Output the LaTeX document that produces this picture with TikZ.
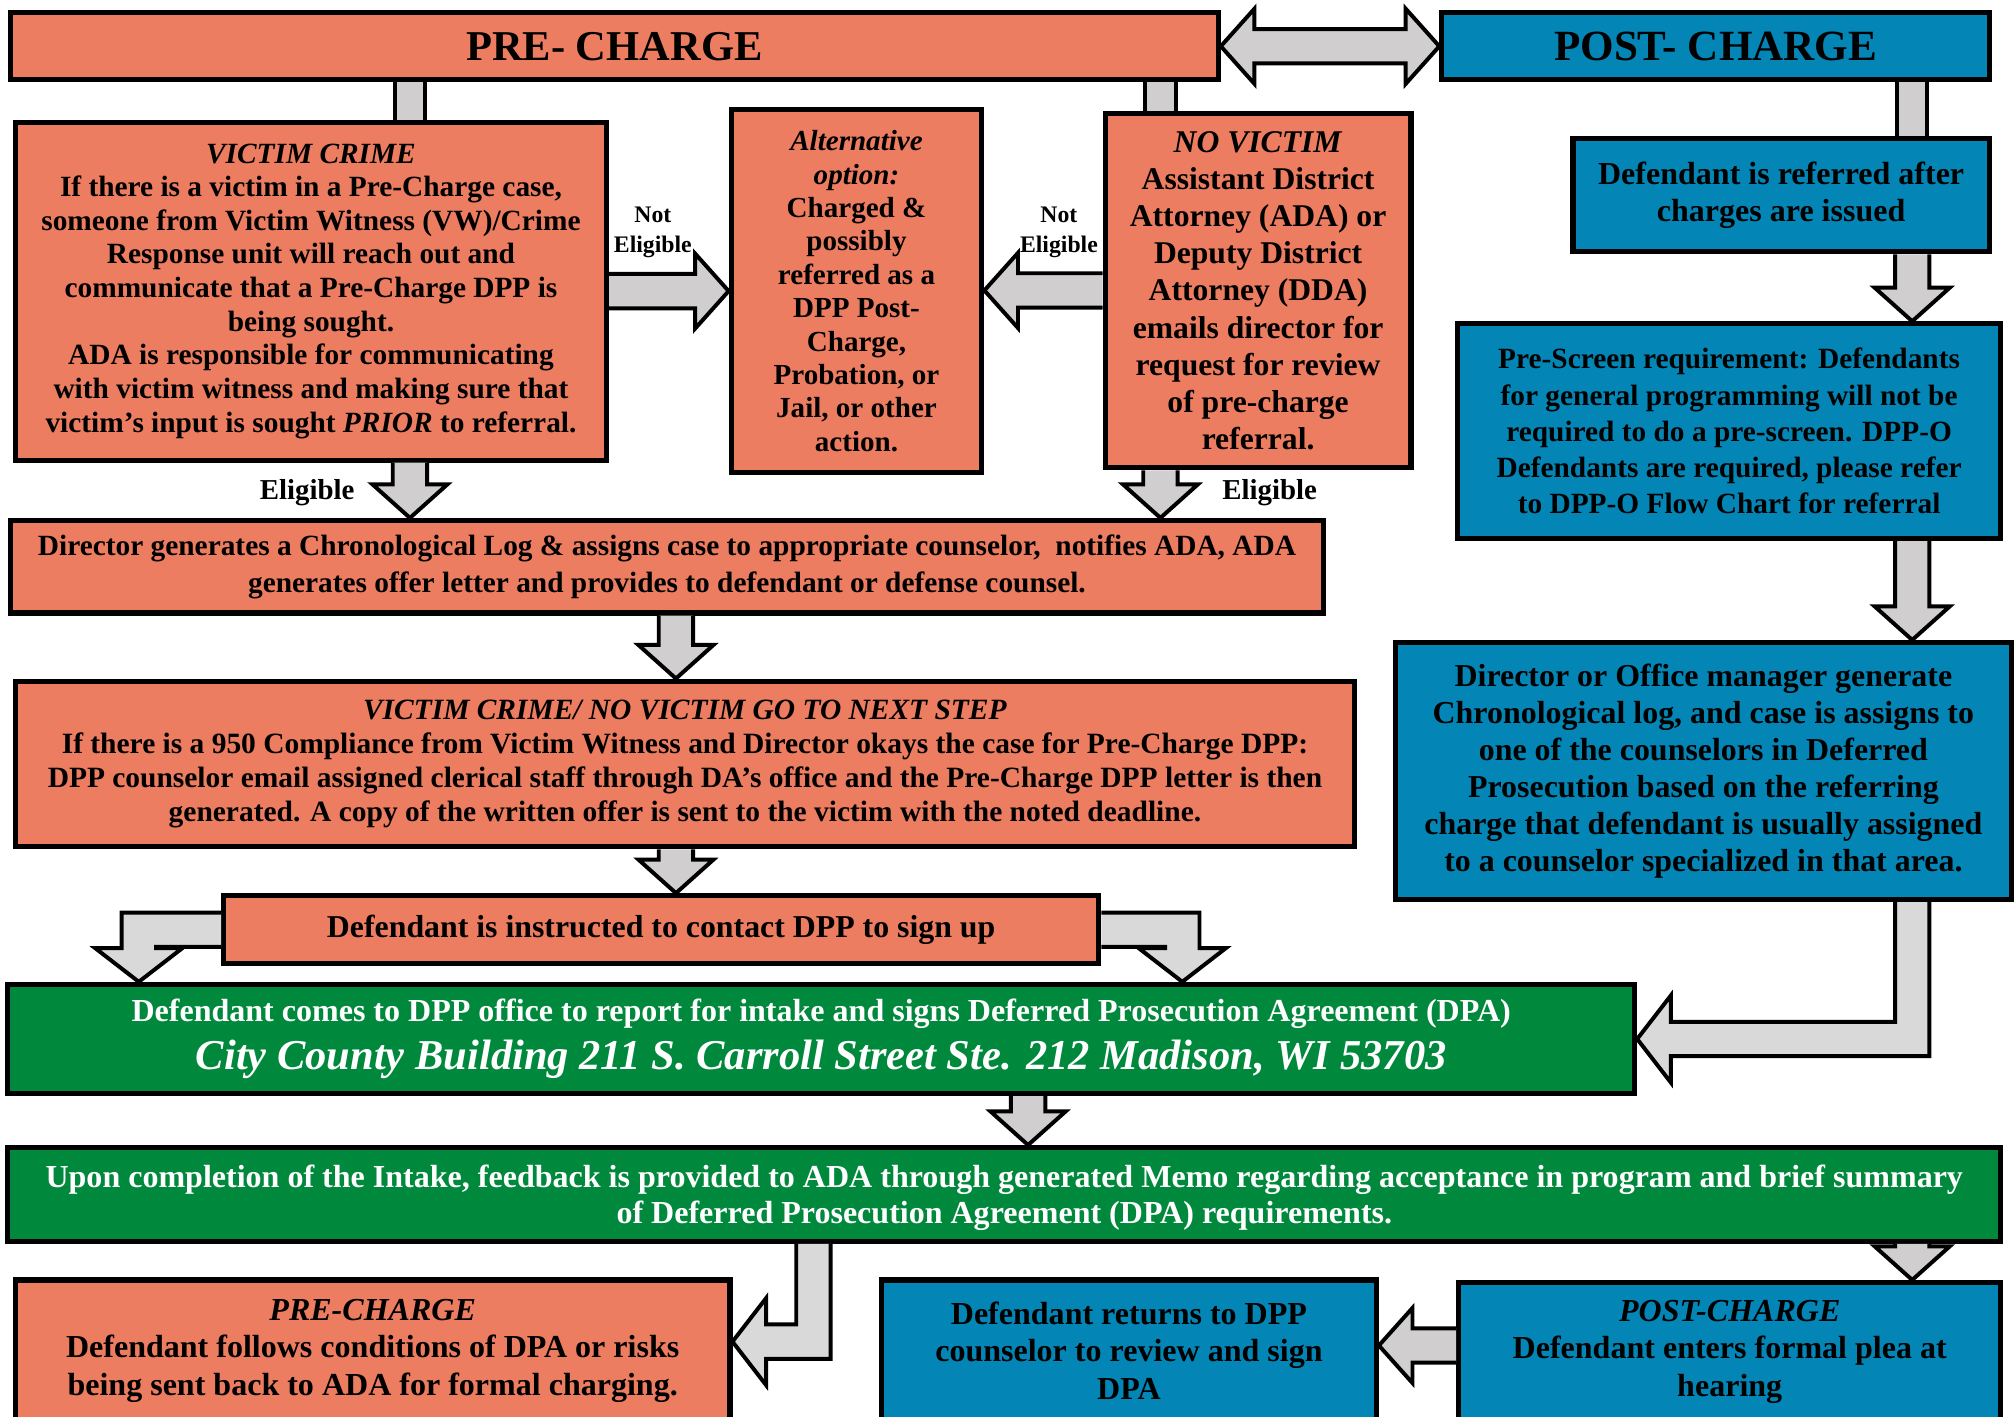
\documentclass[tikz,border=0pt]{standalone}
\usepackage{fontspec}
\setmainfont{Liberation Serif}
\usetikzlibrary{calc}

\definecolor{preorange}{HTML}{ED7D61}
\definecolor{postblue}{HTML}{0386B6}
\definecolor{dpagreen}{HTML}{00893C}
\definecolor{arrowgray}{HTML}{D0CECE}
\definecolor{elbowgray}{HTML}{D9D9D9}

\newcommand{\shaftw}{8.7pt}
\newcommand{\headw}{19pt}
\newcommand{\headl}{17pt}
\newcommand{\elbhw}{22pt}

% fat block arrows (down, left, right, both)
\newcommand{\fatdown}[2]{%
  \filldraw[fatarrow] let \p1=(#1), \p2=(#2) in
    (\x1-\shaftw,\y1) -- (\x1-\shaftw,\y2+\headl) -- (\x1-\headw,\y2+\headl) -- (\x1,\y2)
    -- (\x1+\headw,\y2+\headl) -- (\x1+\shaftw,\y2+\headl) -- (\x1+\shaftw,\y1);}
\newcommand{\fatright}[2]{%
  \filldraw[fatarrow] let \p1=(#1), \p2=(#2) in
    (\x1,\y1+\shaftw) -- (\x2-\headl,\y1+\shaftw) -- (\x2-\headl,\y1+\headw) -- (\x2,\y1)
    -- (\x2-\headl,\y1-\headw) -- (\x2-\headl,\y1-\shaftw) -- (\x1,\y1-\shaftw);}
\newcommand{\fatleft}[2]{%
  \filldraw[fatarrow] let \p1=(#1), \p2=(#2) in
    (\x1,\y1+\shaftw) -- (\x2+\headl,\y1+\shaftw) -- (\x2+\headl,\y1+\headw) -- (\x2,\y1)
    -- (\x2+\headl,\y1-\headw) -- (\x2+\headl,\y1-\shaftw) -- (\x1,\y1-\shaftw);}
\newcommand{\fatboth}[2]{%
  \filldraw[fatarrow] let \p1=(#1), \p2=(#2) in
    (\x1,\y1) -- (\x1+\headl,\y1+\headw) -- (\x1+\headl,\y1+\shaftw) -- (\x2-\headl,\y1+\shaftw)
    -- (\x2-\headl,\y1+\headw) -- (\x2,\y1) -- (\x2-\headl,\y1-\headw) -- (\x2-\headl,\y1-\shaftw)
    -- (\x1+\headl,\y1-\shaftw) -- (\x1+\headl,\y1-\headw) -- cycle;}
% elbow: down first, then left
\newcommand{\fatdownleft}[2]{%
  \filldraw[fatarrow, fill=elbowgray] let \p1=(#1), \p2=(#2) in
    (\x1-\shaftw,\y1) -- (\x1-\shaftw,\y2+\shaftw) -- (\x2+\headl,\y2+\shaftw) -- (\x2+\headl,\y2+\elbhw)
    -- (\x2,\y2) -- (\x2+\headl,\y2-\elbhw) -- (\x2+\headl,\y2-\shaftw) -- (\x1+\shaftw,\y2-\shaftw)
    -- (\x1+\shaftw,\y1);}

\tikzset{
  box/.style={draw=black, line width=2.6pt, align=center, inner sep=0pt},
  prebox/.style={box, fill=preorange},
  postbox/.style={box, fill=postblue},
  dpabox/.style={box, fill=dpagreen, text=white},
  wh/.style 2 args={minimum width=#1*0.65pt, minimum height=#2*0.65pt},
  fs/.style 2 args={font=\bfseries\fontsize{#1}{#2}\selectfont},
  fatarrow/.style={fill=arrowgray, draw=black, line width=2pt, line join=miter},
  stem/.style={draw=black, line width=2pt, double=arrowgray, double distance=13.4pt},
  lbl/.style={align=center, inner sep=0pt}
}

\begin{document}
\begin{tikzpicture}[x=0.65pt, y=-0.65pt]
	\useasboundingbox (0,0) rectangle (1568,1102);

	% columns and rows for the arrows
	\coordinate (colA) at (319,0);
	\coordinate (colB) at (903,0);
	\coordinate (colC) at (1488,0);
	\coordinate (colD) at (526,0);
	\coordinate (colE) at (800,0);
	\coordinate (colF) at (633,0);
	\coordinate (colL) at (108,0);
	\coordinate (colR) at (920,0);
	\coordinate (rowP) at (0,1044);
	\coordinate (rowQ) at (0,1047);

	% headers
	\node[prebox, wh={940}{52}, fs={21.5}{24}, text depth=-1pt] (pre) at (478,36) {PRE- CHARGE};
	\node[postbox, wh={426}{52}, fs={21.8}{24}, text depth=-1pt] (post) at (1335,36) {POST- CHARGE};

	% pre-charge column
	\node[prebox, wh={460}{263}, fs={14.85}{17}] (victim) at (242,226.5) {\textit{VICTIM CRIME}\\
		If there is a victim in a Pre-Charge case,\\
		someone from Victim Witness (VW)/Crime\\
		Response unit will reach out and\\
		communicate that a Pre-Charge DPP is\\
		being sought.\\
		ADA is responsible for communicating\\
		with victim witness and making sure that\\
		victim’s input is sought \textit{PRIOR} to referral.};
	\node[prebox, wh={195}{283}, fs={14.7}{16.9}] (altopt) at (666.5,226.5) {\textit{Alternative}\\
		\textit{option:}\\ Charged \&\\ possibly\\ referred as a\\ DPP Post-\\ Charge,\\
		Probation, or\\ Jail, or other\\ action.};
	\node[prebox, wh={238}{276}, fs={16}{18.8}, text depth=-3pt] (novictim) at (979,226) {\textit{NO VICTIM}\\
		Assistant District\\ Attorney (ADA) or\\ Deputy District\\ Attorney (DDA)\\
		emails director for\\ request for review\\ of pre-charge\\ referral.};
	\node[prebox, wh={1022}{72}, fs={14.85}{19}] (dirlog) at (519,441) {Director generates a Chronological Log \& assigns case to appropriate counselor,~ notifies ADA, ADA\\
		generates offer letter and provides to defendant or defense counsel.};
	\node[prebox, wh={1042}{129}, fs={14.9}{17.2}] (nextstep) at (533,594.5) {\textit{VICTIM CRIME/ NO VICTIM GO TO NEXT STEP}\\
		If there is a 950 Compliance from Victim Witness and Director okays the case for Pre-Charge DPP:\\
		DPP counselor email assigned clerical staff through DA’s office and the Pre-Charge DPP letter is then\\
		generated. A copy of the written offer is sent to the victim with the noted deadline.};
	\node[prebox, wh={681}{53}, fs={16.1}{18}] (instruct) at (514.5,723.5) {Defendant is instructed to contact DPP to sign up};

	% post-charge column
	\node[postbox, wh={324}{88}, fs={16.2}{18.8}] (referred) at (1386,152) {Defendant is referred after\\ charges are issued};
	\node[postbox, wh={423}{167}, fs={14.85}{18.3}] (prescreen) at (1345.5,335.5) {Pre-Screen requirement: Defendants\\
		for general programming will not be\\ required to do a pre-screen. DPP-O\\
		Defendants are required, please refer\\ to DPP-O Flow Chart for referral};
	\node[postbox, wh={479}{200}, fs={16.15}{18.7}] (officemgr) at (1325.5,600) {Director or Office manager generate\\
		Chronological log, and case is assigns to\\ one of the counselors in Deferred\\
		Prosecution based on the referring\\ charge that defendant is usually assigned\\
		to a counselor specialized in that area.};

	% intake
	\node[dpabox, wh={1266}{85}, fs={16.2}{22}] (intake) at (639,808.5) {Defendant comes to DPP office to report for intake and signs Deferred Prosecution Agreement (DPA)\\[2pt]
		{\fontsize{21.5}{22}\selectfont\itshape City County Building 211 S. Carroll Street Ste. 212 Madison, WI 53703}};
	\node[dpabox, wh={1551}{73}, fs={16.2}{18.4}, text depth=-2pt] (feedback) at (781.5,929.5) {Upon completion of the Intake, feedback is provided to ADA through generated Memo regarding acceptance in program and brief summary\\
		of Deferred Prosecution Agreement (DPA) requirements.};

	% outcomes
	\node[prebox, wh={556}{110}, fs={16.2}{19}] (prefollow) at (290,1051) {\textit{PRE-CHARGE}\\
		Defendant follows conditions of DPA or risks\\ being sent back to ADA for formal charging.};
	\node[postbox, wh={385}{110}, fs={16.2}{19}] (returns) at (878.5,1051) {Defendant returns to DPP\\ counselor to review and sign\\ DPA};
	\node[postbox, wh={422}{108}, fs={16.2}{19}] (postplea) at (1346,1052) {\textit{POST-CHARGE}\\
		Defendant enters formal plea at\\ hearing};

	% labels
	\node[lbl, fs={12}{15}] (notelig1) at (508,181) {Not\\ Eligible};
	\node[lbl, fs={12}{15}] (notelig2) at (824,181) {Not\\ Eligible};
	\node[lbl, fs={14.6}{16}] (elig1) at (239,383) {Eligible};
	\node[lbl, fs={14.6}{16}] (elig2) at (988,383) {Eligible};

	% stems
	\draw[stem] (pre.south -| colA) -- (victim.north -| colA);
	\draw[stem] (pre.south -| colB) -- (novictim.north -| colB);
	\draw[stem] (post.south -| colC) -- (referred.north -| colC);

	% arrows
	\fatboth{pre.east}{post.west}
	\fatright{victim.east}{altopt.west |- victim.east}
	\fatleft{novictim.west}{altopt.east |- novictim.west}
	\fatdown{victim.south -| colA}{dirlog.north -| colA}
	\fatdown{novictim.south -| colB}{dirlog.north -| colB}
	\fatdown{dirlog.south -| colD}{nextstep.north -| colD}
	\fatdown{nextstep.south -| colD}{instruct.north -| colD}
	\fatdown{referred.south -| colC}{prescreen.north -| colC}
	\fatdown{prescreen.south -| colC}{officemgr.north -| colC}
	\fatdown{intake.south -| colE}{feedback.north -| colE}
	\fatdown{feedback.south -| colC}{postplea.north -| colC}
	\fatleft{postplea.west |- rowQ}{returns.east |- rowQ}

	% elbows
	\filldraw[fatarrow, fill=elbowgray] let \p1=(instruct.west), \p2=(intake.north -| colL) in
		(\x1,\y1+\shaftw) -- (\x2-\shaftw,\y1+\shaftw) -- (\x2-\shaftw,\y2+\headl) -- (\x2-\elbhw,\y2+\headl)
		-- (\x2,\y2) -- (\x2+\elbhw,\y2+\headl) -- (\x2+\shaftw,\y2+\headl) -- (\x2+\shaftw,\y1-\shaftw) -- (\x1,\y1-\shaftw);
	\filldraw[fatarrow, fill=elbowgray] let \p1=(instruct.east), \p2=(intake.north -| colR) in
		(\x1,\y1+\shaftw) -- (\x2+\shaftw,\y1+\shaftw) -- (\x2+\shaftw,\y2+\headl) -- (\x2+\elbhw,\y2+\headl)
		-- (\x2,\y2) -- (\x2-\elbhw,\y2+\headl) -- (\x2-\shaftw,\y2+\headl) -- (\x2-\shaftw,\y1-\shaftw) -- (\x1,\y1-\shaftw);
	\fatdownleft{officemgr.south -| colC}{intake.east}
	\fatdownleft{feedback.south -| colF}{prefollow.east |- rowP}
\end{tikzpicture}
\end{document}
